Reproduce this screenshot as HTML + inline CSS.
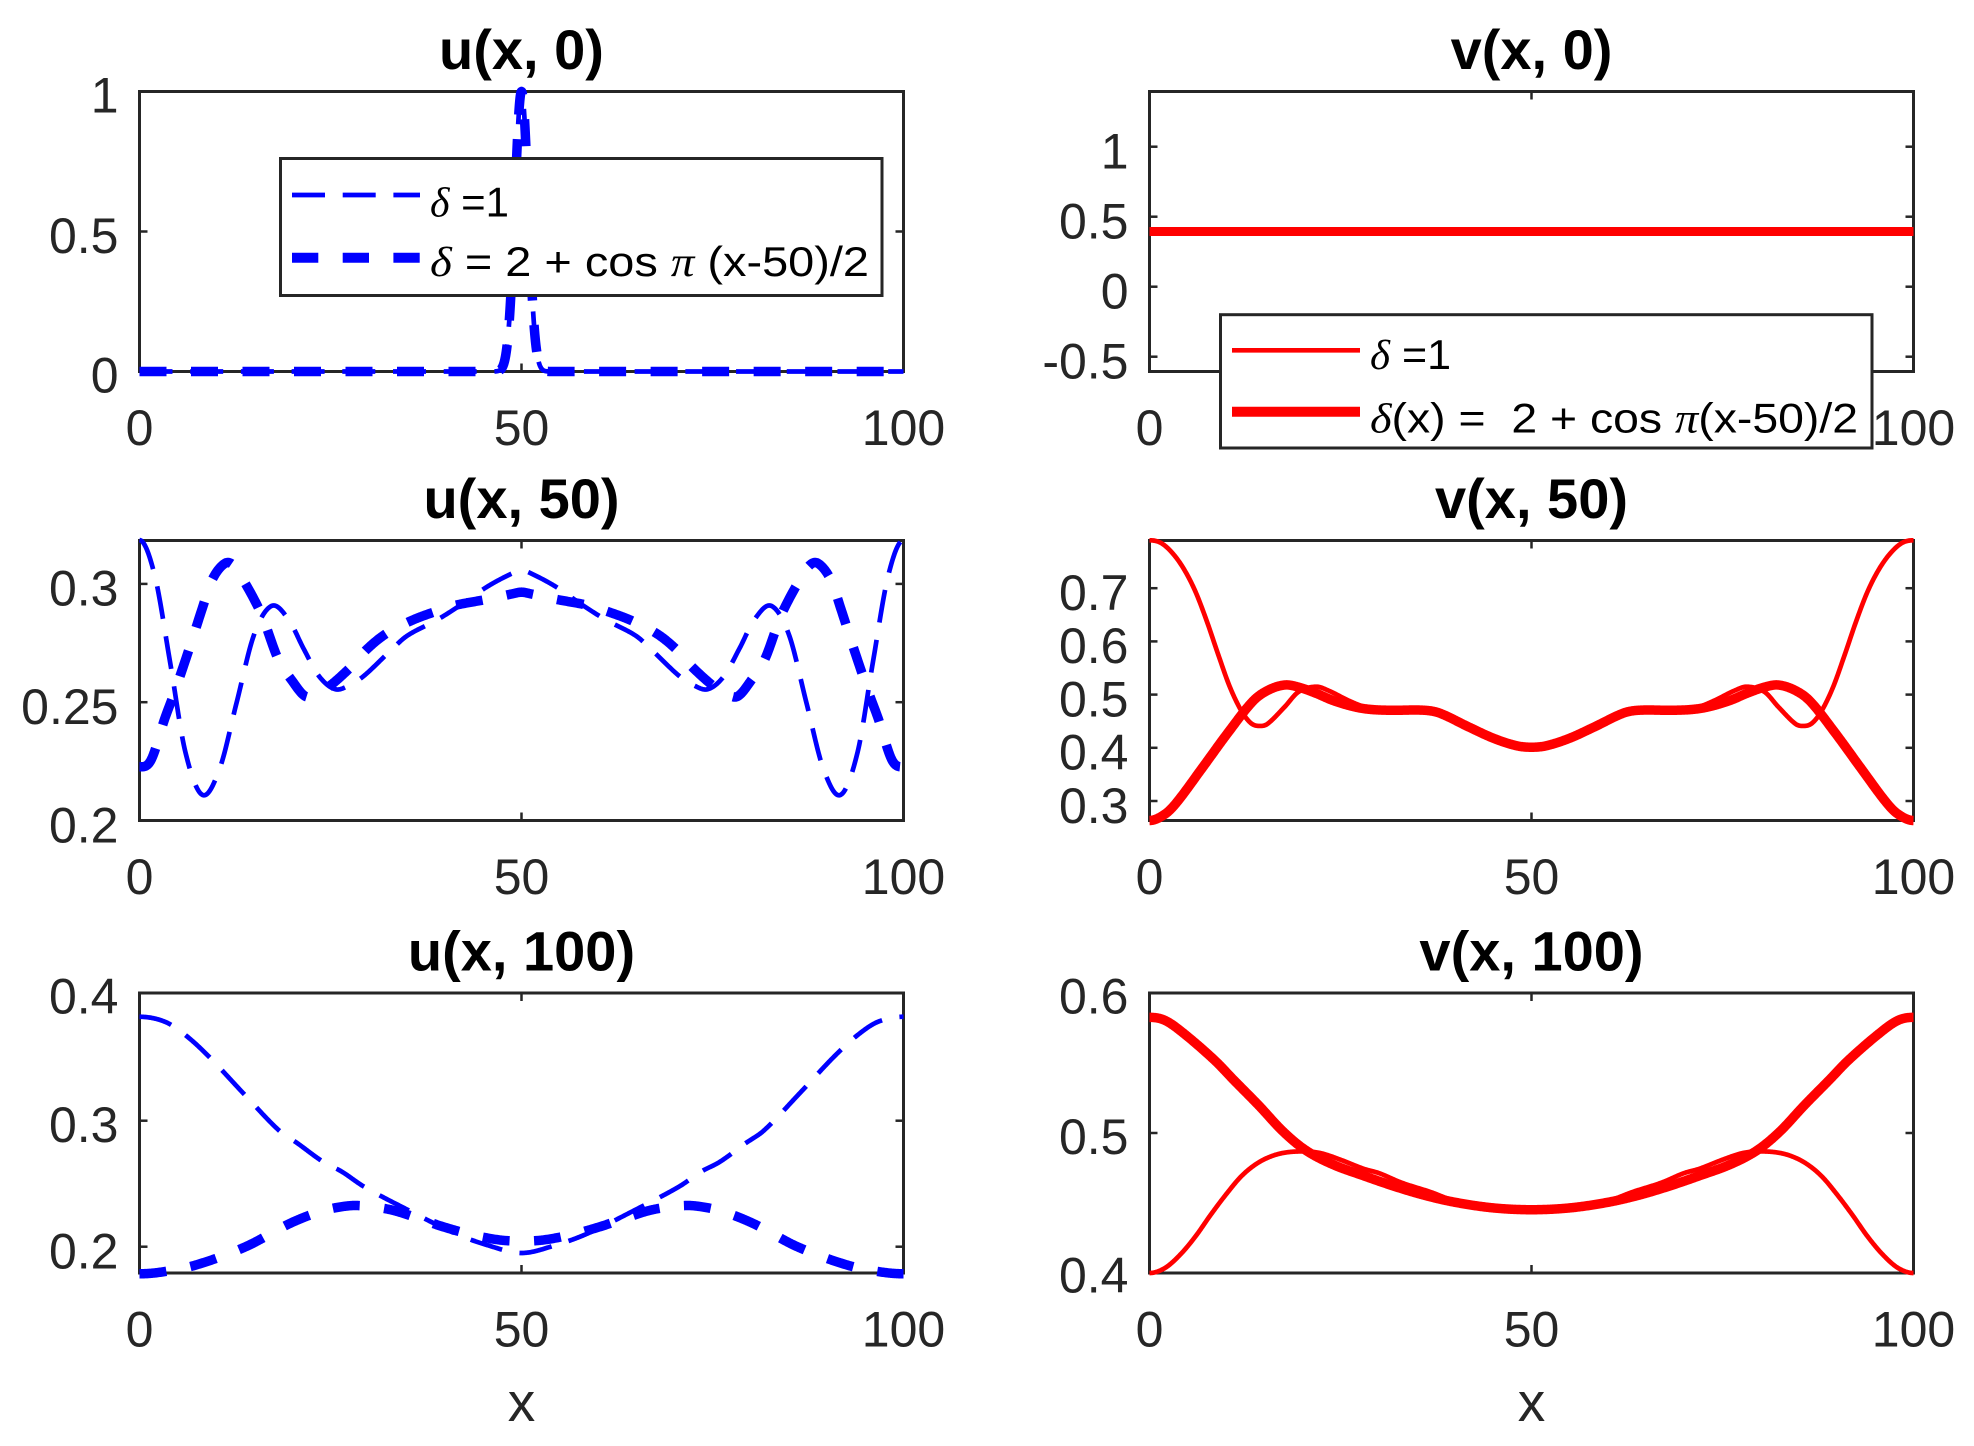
<!DOCTYPE html>
<html>
<head>
<meta charset="utf-8">
<style>
html,body{margin:0;padding:0;background:#fff;}
svg{display:block;}
text{font-family:"Liberation Sans",Arial,sans-serif;}
.tk{font-size:50px;fill:#262626;}
.tt{font-size:56px;font-weight:bold;fill:#000;}
.xl{font-size:55px;fill:#262626;}
.lg{font-size:42px;fill:#000;white-space:pre;}
.gr{font-family:"Liberation Serif",serif;font-style:italic;}
</style>
</head>
<body>
<svg id="fig" xmlns="http://www.w3.org/2000/svg" width="1974" height="1446" viewBox="0 0 1974 1446">
<rect x="0" y="0" width="1974" height="1446" fill="#fff"/>

<!-- axes boxes -->
<g fill="none" stroke="#262626" stroke-width="3">
  <rect x="139.5" y="91.5" width="764" height="280"/>
  <rect x="1149.5" y="91.5" width="764" height="280"/>
  <rect x="139.5" y="540.5" width="764" height="280"/>
  <rect x="1149.5" y="540.5" width="764" height="280"/>
  <rect x="139.5" y="993" width="764" height="280"/>
  <rect x="1149.5" y="993" width="764" height="280"/>
</g>

<!-- tick marks -->
<g stroke="#262626" stroke-width="2.5">
  <line x1="521.5" y1="91.5" x2="521.5" y2="99.5"/><line x1="521.5" y1="371.5" x2="521.5" y2="363.5"/>
  <line x1="1531.5" y1="91.5" x2="1531.5" y2="99.5"/><line x1="1531.5" y1="371.5" x2="1531.5" y2="363.5"/>
  <line x1="521.5" y1="540.5" x2="521.5" y2="548.5"/><line x1="521.5" y1="820.5" x2="521.5" y2="812.5"/>
  <line x1="1531.5" y1="540.5" x2="1531.5" y2="548.5"/><line x1="1531.5" y1="820.5" x2="1531.5" y2="812.5"/>
  <line x1="521.5" y1="993" x2="521.5" y2="1001"/><line x1="521.5" y1="1273" x2="521.5" y2="1265"/>
  <line x1="1531.5" y1="993" x2="1531.5" y2="1001"/><line x1="1531.5" y1="1273" x2="1531.5" y2="1265"/>
  <line x1="139.5" y1="231.5" x2="147.5" y2="231.5"/><line x1="903.5" y1="231.5" x2="895.5" y2="231.5"/>
  <line x1="1149.5" y1="146.7" x2="1157.5" y2="146.7"/><line x1="1913.5" y1="146.7" x2="1905.5" y2="146.7"/>
  <line x1="1149.5" y1="216.7" x2="1157.5" y2="216.7"/><line x1="1913.5" y1="216.7" x2="1905.5" y2="216.7"/>
  <line x1="1149.5" y1="286.7" x2="1157.5" y2="286.7"/><line x1="1913.5" y1="286.7" x2="1905.5" y2="286.7"/>
  <line x1="1149.5" y1="356.7" x2="1157.5" y2="356.7"/><line x1="1913.5" y1="356.7" x2="1905.5" y2="356.7"/>
  <line x1="139.5" y1="702.2" x2="147.5" y2="702.2"/><line x1="903.5" y1="702.2" x2="895.5" y2="702.2"/>
  <line x1="139.5" y1="583.9" x2="147.5" y2="583.9"/><line x1="903.5" y1="583.9" x2="895.5" y2="583.9"/>
  <line x1="1149.5" y1="801" x2="1157.5" y2="801"/><line x1="1913.5" y1="801" x2="1905.5" y2="801"/>
  <line x1="1149.5" y1="747.8" x2="1157.5" y2="747.8"/><line x1="1913.5" y1="747.8" x2="1905.5" y2="747.8"/>
  <line x1="1149.5" y1="694.6" x2="1157.5" y2="694.6"/><line x1="1913.5" y1="694.6" x2="1905.5" y2="694.6"/>
  <line x1="1149.5" y1="641.4" x2="1157.5" y2="641.4"/><line x1="1913.5" y1="641.4" x2="1905.5" y2="641.4"/>
  <line x1="1149.5" y1="588.2" x2="1157.5" y2="588.2"/><line x1="1913.5" y1="588.2" x2="1905.5" y2="588.2"/>
  <line x1="139.5" y1="1246.7" x2="147.5" y2="1246.7"/><line x1="903.5" y1="1246.7" x2="895.5" y2="1246.7"/>
  <line x1="139.5" y1="1120.7" x2="147.5" y2="1120.7"/><line x1="903.5" y1="1120.7" x2="895.5" y2="1120.7"/>
  <line x1="1149.5" y1="1133" x2="1157.5" y2="1133"/><line x1="1913.5" y1="1133" x2="1905.5" y2="1133"/>
</g>

<!-- titles -->
<text class="tt" x="521.5" y="69" text-anchor="middle">u(x, 0)</text>
<text class="tt" x="1531.5" y="69" text-anchor="middle">v(x, 0)</text>
<text class="tt" x="521.5" y="518" text-anchor="middle">u(x, 50)</text>
<text class="tt" x="1531.5" y="518" text-anchor="middle">v(x, 50)</text>
<text class="tt" x="521.5" y="970.5" text-anchor="middle">u(x, 100)</text>
<text class="tt" x="1531.5" y="970.5" text-anchor="middle">v(x, 100)</text>

<!-- x tick labels -->
<g class="tk" text-anchor="middle">
  <text class="tk" x="139.5" y="445">0</text><text class="tk" x="521.5" y="445">50</text><text class="tk" x="903.5" y="445">100</text>
  <text class="tk" x="1149.5" y="445">0</text><text class="tk" x="1531.5" y="445">50</text><text class="tk" x="1913.5" y="445">100</text>
  <text class="tk" x="139.5" y="894">0</text><text class="tk" x="521.5" y="894">50</text><text class="tk" x="903.5" y="894">100</text>
  <text class="tk" x="1149.5" y="894">0</text><text class="tk" x="1531.5" y="894">50</text><text class="tk" x="1913.5" y="894">100</text>
  <text class="tk" x="139.5" y="1346.5">0</text><text class="tk" x="521.5" y="1346.5">50</text><text class="tk" x="903.5" y="1346.5">100</text>
  <text class="tk" x="1149.5" y="1346.5">0</text><text class="tk" x="1531.5" y="1346.5">50</text><text class="tk" x="1913.5" y="1346.5">100</text>
</g>

<!-- y tick labels -->
<g text-anchor="end">
  <text class="tk" x="118.5" y="392.5">0</text>
  <text class="tk" x="118.5" y="253">0.5</text>
  <text class="tk" x="118.5" y="112.5">1</text>

  <text class="tk" x="1128.5" y="168.5">1</text>
  <text class="tk" x="1128.5" y="238.5">0.5</text>
  <text class="tk" x="1128.5" y="308.5">0</text>
  <text class="tk" x="1128.5" y="378.5">-0.5</text>

  <text class="tk" x="118.5" y="842.5">0.2</text>
  <text class="tk" x="118.5" y="724">0.25</text>
  <text class="tk" x="118.5" y="605.5">0.3</text>

  <text class="tk" x="1128.5" y="823">0.3</text>
  <text class="tk" x="1128.5" y="769.5">0.4</text>
  <text class="tk" x="1128.5" y="716.5">0.5</text>
  <text class="tk" x="1128.5" y="663">0.6</text>
  <text class="tk" x="1128.5" y="610">0.7</text>

  <text class="tk" x="118.5" y="1268.5">0.2</text>
  <text class="tk" x="118.5" y="1142">0.3</text>
  <text class="tk" x="118.5" y="1013.5">0.4</text>

  <text class="tk" x="1128.5" y="1292.5">0.4</text>
  <text class="tk" x="1128.5" y="1154">0.5</text>
  <text class="tk" x="1128.5" y="1013.5">0.6</text>
</g>

<!-- x labels -->
<text class="xl" x="521.5" y="1421" text-anchor="middle">x</text>
<text class="xl" x="1531.5" y="1421" text-anchor="middle">x</text>

<!-- data -->
<g id="data" fill="none" stroke-linejoin="round"></g>

<!-- legend u -->
<rect x="280.5" y="158.5" width="601.5" height="137" fill="#fff" stroke="#262626" stroke-width="3"/>
<line x1="292" y1="195" x2="420" y2="195" stroke="#0000ff" stroke-width="4.7" stroke-dasharray="33 17.7"/>
<line x1="292" y1="257.7" x2="420" y2="257.7" stroke="#0000ff" stroke-width="10" stroke-dasharray="26.3 24.4"/>
<text class="lg" x="430" y="216.5" textLength="79" lengthAdjust="spacingAndGlyphs"><tspan class="gr">δ</tspan> =1</text>
<text class="lg" x="430" y="276" textLength="439" lengthAdjust="spacingAndGlyphs"><tspan class="gr">δ</tspan> = 2 + cos <tspan class="gr">π</tspan> (x-50)/2</text>

<!-- legend v -->
<rect x="1220.5" y="314.7" width="651.5" height="133.3" fill="#fff" stroke="#262626" stroke-width="3"/>
<line x1="1232" y1="350.3" x2="1360" y2="350.3" stroke="#ff0000" stroke-width="4.7"/>
<line x1="1232" y1="411.7" x2="1360" y2="411.7" stroke="#ff0000" stroke-width="10"/>
<text class="lg" x="1370" y="369" textLength="81" lengthAdjust="spacingAndGlyphs"><tspan class="gr">δ</tspan> =1</text>
<text class="lg" x="1370" y="432.5" textLength="488" lengthAdjust="spacingAndGlyphs"><tspan class="gr">δ</tspan>(x) =  2 + cos <tspan class="gr">π</tspan>(x-50)/2</text>
</svg>

<script>
(function(){
var NS='http://www.w3.org/2000/svg';
var g=document.getElementById('data');
function interp(pts){
  var f=pts.slice();
  for(var i=pts.length-2;i>=0;i--) f.push([100-pts[i][0],pts[i][1]]);
  var n=f.length,m=[];
  for(var i=0;i<n;i++) m.push(0);
  for(var i=1;i<n-1;i++) m[i]=(f[i+1][1]-f[i-1][1])/(f[i+1][0]-f[i-1][0]);
  return function(x){
    var i=0; while(i<n-2 && x>f[i+1][0]) i++;
    var x0=f[i][0],x1=f[i+1][0],h=x1-x0,t=(x-x0)/h,t2=t*t,t3=t2*t;
    return (2*t3-3*t2+1)*f[i][1]+(t3-2*t2+t)*h*m[i]+(-2*t3+3*t2)*f[i+1][1]+(t3-t2)*h*m[i+1];
  };
}
function ax(L,B,vmin,vmax){return {L:L,B:B,vmin:vmin,vmax:vmax};}
var A={
 u0:ax(139.5,371.5,0,1),
 v0:ax(1149.5,371.5,-0.606,1.394),
 u50:ax(139.5,820.5,0.2,0.2+280/2366),
 v50:ax(1149.5,820.5,0.2633,0.2633+280/532),
 u100:ax(139.5,1273,0.17913,0.17913+280/1260),
 v100:ax(1149.5,1273,0.4,0.6)
};
function add(a,fn,color,w,dash,N){
  N=N||1000;
  var d='';
  for(var k=0;k<=N;k++){
    var x=100*k/N;
    var X=a.L+x*7.64;
    var Y=a.B-(fn(x)-a.vmin)/(a.vmax-a.vmin)*280;
    d+=(k?'L':'M')+X.toFixed(2)+' '+Y.toFixed(2);
  }
  var p=document.createElementNS(NS,'path');
  p.setAttribute('d',d);
  p.setAttribute('stroke',color);
  p.setAttribute('stroke-width',w);
  if(dash) p.setAttribute('stroke-dasharray',dash);
  g.appendChild(p);
}
var BL='#0000ff',RD='#ff0000',THIN='33 17.7',THICK='27 24.5';

// u(x,0)
var spike=function(x){return Math.exp(-(x-50)*(x-50)/1.5);};
add(A.u0,spike,BL,4.7,THIN,4000);
add(A.u0,spike,BL,9.5,THICK,4000);

// v(x,0)
var c=function(){return 0.394;};
add(A.v0,c,RD,4.7,null,10);
add(A.v0,c,RD,9,null,10);

// u(x,50)
var u50thin=interp([[0,0.3185],[2,0.3035],[4,0.267],[6,0.229],[8.25,0.2108],[10.5,0.222],[12.7,0.2497],[15,0.2786],[17.3,0.2907],[19.5,0.285],[21.5,0.2725],[23.5,0.261],[25.6,0.2555],[27.5,0.2572],[29.4,0.2612],[32.7,0.2713],[35,0.278],[38.9,0.2847],[42,0.291],[45.5,0.2988],[48.8,0.3045],[50,0.3057]]);
var u50thick=interp([[0,0.2227],[1.5,0.2255],[3.3,0.243],[4.5,0.2535],[6.6,0.2735],[8.2,0.2895],[9.5,0.3017],[11.2,0.3087],[12.4,0.3075],[14.1,0.2988],[15.7,0.289],[16.4,0.2835],[18.2,0.2678],[19.9,0.2594],[21.7,0.2525],[23.2,0.2535],[24.8,0.2566],[27.7,0.265],[29.8,0.2725],[32.3,0.279],[35.6,0.2845],[38.9,0.2885],[41.4,0.291],[45.5,0.2935],[48.8,0.2958],[50,0.2965]]);
add(A.u50,u50thin,BL,4.7,THIN);
add(A.u50,u50thick,BL,9.5,THICK);

// v(x,50)
var v50thin=interp([[0,0.79],[1.5,0.785],[3,0.766],[4.5,0.736],[6,0.694],[7.5,0.638],[9,0.575],[10.5,0.515],[12,0.47],[13.3,0.446],[14.5,0.441],[15.5,0.4455],[17.7,0.477],[19.5,0.505],[21.8,0.5148],[23.5,0.507],[25.9,0.4898],[28,0.477],[29.2,0.4715],[31.7,0.4698],[36,0.4705],[38,0.465],[41.7,0.4397],[45,0.418],[48,0.404],[50,0.401]]);
var v50thick=interp([[0,0.2633],[2,0.275],[3.6,0.298],[6.9,0.362],[10.2,0.427],[13.5,0.487],[15.5,0.508],[17.7,0.518],[19.5,0.514],[21.8,0.5024],[24,0.489],[26.8,0.477],[29,0.472],[31.7,0.4705],[36,0.4705],[38,0.465],[41.7,0.4397],[45,0.418],[48,0.404],[50,0.401]]);
add(A.v50,v50thin,RD,4.7,null);
add(A.v50,v50thick,RD,9.5,null);

// u(x,100)
var u100thin=interp([[0,0.3825],[3.3,0.3786],[6,0.368],[9.1,0.3508],[13.6,0.3217],[18.2,0.2926],[20.7,0.282],[24,0.2675],[26.5,0.2595],[29.4,0.2476],[34.7,0.2305],[41.3,0.2106],[45.5,0.2013],[50,0.195]]);
var u100thick=interp([[0,0.1785],[3,0.18],[7.4,0.1855],[13.9,0.2],[19.7,0.2185],[24,0.2285],[27.5,0.2325],[30,0.232],[33.1,0.229],[36.5,0.2225],[39.7,0.2159],[43.5,0.2095],[47.2,0.2053],[50,0.2045]]);
add(A.u100,u100thin,BL,4.7,THIN);
add(A.u100,u100thick,BL,9.5,THICK);

// v(x,100)
var v100thin=interp([[0,0.4],[2,0.4035],[4,0.413],[6,0.426],[8,0.4415],[10,0.456],[12,0.469],[14,0.478],[16,0.4835],[18,0.4862],[20.5,0.4868],[22.5,0.4855],[25.1,0.4807],[28,0.4745],[30.1,0.4712],[33,0.4645],[36.7,0.458],[40,0.4515],[45,0.4468],[50,0.4452]]);
var v100thick=interp([[0,0.5826],[2,0.5805],[4.4,0.5715],[8.5,0.5521],[11,0.538],[14.3,0.5197],[17.5,0.501],[20.5,0.4875],[24,0.4775],[28,0.4695],[32,0.462],[36,0.4555],[40,0.4505],[45,0.4465],[50,0.4452]]);
add(A.v100,v100thin,RD,4.7,null);
add(A.v100,v100thick,RD,9.5,null);
})();
</script>
</body>
</html>
